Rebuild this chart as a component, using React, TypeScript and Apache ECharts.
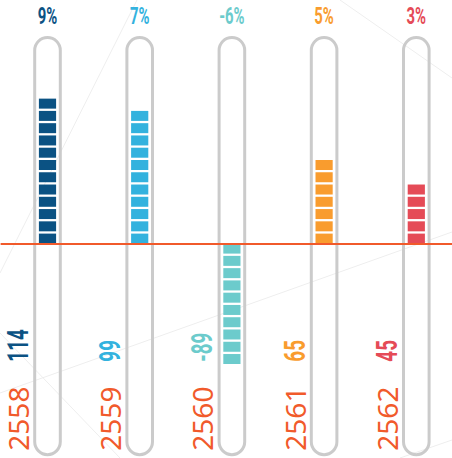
import React, { useEffect, useRef } from "react";
import * as echarts from "echarts";

// ---- data ----
const years = ["2558", "2559", "2560", "2561", "2562"];
const values = [114, 99, -89, 65, 45];
const growth = ["9%", "7%", "-6%", "5%", "3%"];
const colors = ["#0b5283", "#33b2de", "#6ccbcc", "#f99c2e", "#e54b57"];

// tube extent (axis values)
const TUBE_MAX = 168;
const TUBE_MIN = -172;
// bounding value used to fix the spacing of repeated blocks
const BOUND = 167.74;

const ORANGE = "#f15a2b";

const bgLines = [
  [137, 0, 0, 273],
  [340, 0, 452, 78],
  [0, 393, 452, 232],
  [0, 333, 120, 458],
  [400, 458, 452, 440],
];

export default function App() {
  const ref = useRef<HTMLDivElement>(null);

  useEffect(() => {
    if (!ref.current) return;
    const chart = echarts.init(ref.current, undefined, { renderer: "svg" });

    const option: any = {
      animation: false,
      backgroundColor: "#ffffff",
      grid: {
        left: 1.4,
        width: 461,
        top: 36.96,
        height: 418.2,
        outerBoundsMode: "none",
        containLabel: false,
      },
      graphic: bgLines.map((l) => ({
        type: "line",
        silent: true,
        z: -10,
        shape: { x1: l[0], y1: l[1], x2: l[2], y2: l[3] },
        style: { stroke: "#eeeeee", lineWidth: 1 },
      })),
      xAxis: {
        type: "category",
        data: years,
        axisLine: { show: true, onZero: true, lineStyle: { color: ORANGE, width: 2 } },
        axisTick: { show: false },
        axisLabel: { show: false },
        splitLine: { show: false },
        z: 10,
      },
      yAxis: {
        type: "value",
        min: TUBE_MIN,
        max: TUBE_MAX,
        show: false,
        splitLine: { show: false },
      },
      series: [
        {
          type: "custom",
          silent: true,
          z: 1,
          clip: false,
          data: years.map((y, i) => [i, values[i]]),
          renderItem: (params: any, api: any) => {
            const idx = api.value(0);
            const cx = api.coord([idx, 0])[0];
            const top = api.coord([idx, TUBE_MAX])[1];
            const bottom = api.coord([idx, TUBE_MIN])[1];
            const w = 25.6;
            return {
              type: "rect",
              shape: { x: cx - w / 2, y: top + 0.5, width: w, height: bottom - top - 1, r: w / 2 },
              style: { fill: "transparent", stroke: "#cbcbcb", lineWidth: 3 },
            };
          },
        },
        {
          type: "pictorialBar",
          z: 3,
          symbol: "rect",
          symbolRepeat: true,
          symbolSize: [17, 10],
          symbolMargin: 1.2,
          symbolBoundingData: [-BOUND, BOUND],
          symbolPosition: "start",
          data: values.map((v, i) => ({ value: v, itemStyle: { color: colors[i] } })),
        },
        {
          type: "custom",
          silent: true,
          z: 5,
          clip: false,
          data: years.map((y, i) => [i, values[i]]),
          renderItem: (params: any, api: any) => {
            const i = params.dataIndex;
            const idx = api.value(0);
            const cx = api.coord([idx, 0])[0];
            const top = api.coord([idx, TUBE_MAX])[1];
            const bottom = api.coord([idx, TUBE_MIN])[1];
            return {
              type: "group",
              children: [
                {
                  type: "text",
                  x: cx,
                  y: top - 21.5,
                  scaleX: 0.62,
                  style: {
                    text: growth[i],
                    fill: colors[i],
                    font: "bold 24px Roboto",
                    align: "center",
                    verticalAlign: "middle",
                  },
                },
                {
                  type: "text",
                  x: cx - 29.5,
                  y: bottom - 93.5,
                  rotation: Math.PI / 2,
                  scaleX: 0.65,
                  style: {
                    text: String(values[i]),
                    fill: colors[i],
                    font: "bold 29px Roboto",
                    align: "left",
                    verticalAlign: "middle",
                  },
                },
                {
                  type: "text",
                  x: cx - 29.5,
                  y: bottom - 4.5,
                  rotation: Math.PI / 2,
                  style: {
                    text: years[i],
                    fill: ORANGE,
                    font: '28px "Noto Sans"',
                    align: "left",
                    verticalAlign: "middle",
                  },
                },
              ],
            };
          },
        },
      ],
    };

    chart.setOption(option);
    return () => chart.dispose();
  }, []);

  return (
    <div
      ref={ref}
      style={{ position: "absolute", left: 0, top: 0, width: 452, height: 458 }}
    />
  );
}
